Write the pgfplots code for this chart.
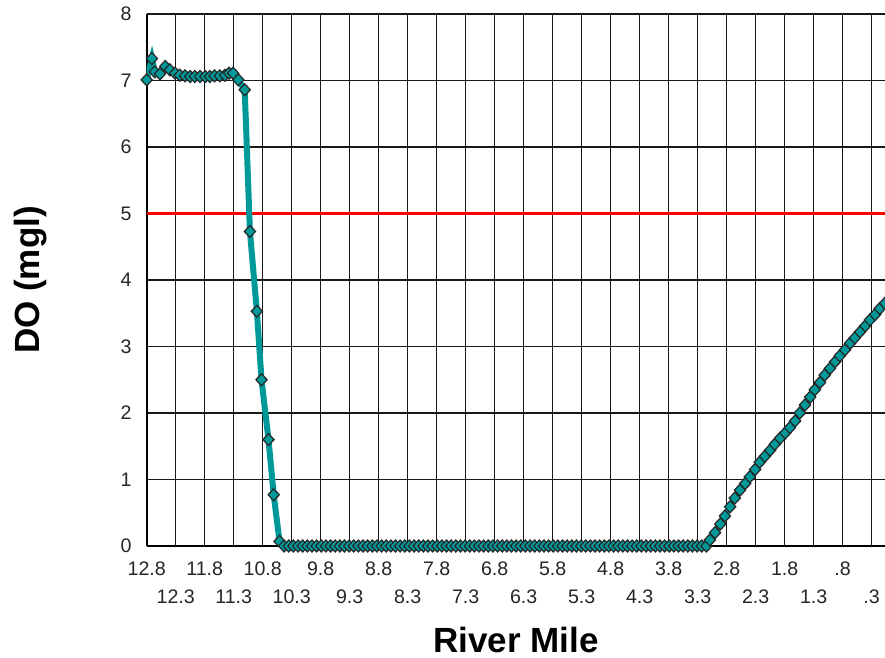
\documentclass[border=0pt]{standalone}
\usepackage{pgfplots}
\pgfplotsset{compat=1.18}
\usepackage{fontspec}
\setmainfont{Liberation Sans}
\definecolor{doteal}{RGB}{0,153,153}
\begin{document}
\begin{tikzpicture}
\useasboundingbox (-73.35pt,-56pt) rectangle (369.15pt,273pt);
\begin{axis}[
  scale only axis,
  width=369.15pt, height=266pt,
  at={(0,0)}, anchor=south west,
  x dir=reverse,
  xmin=0.07, xmax=12.8,
  ymin=0, ymax=8,
  axis x line*=bottom, axis y line*=left,
  axis line style={-, black, line width=1pt},
  ytick={0,1,...,8},
  xtick={12.8,11.8,10.8,9.8,8.8,7.8,6.8,5.8,4.8,3.8,2.8,1.8,0.8},
  xticklabels={12.8,11.8,10.8,9.8,8.8,7.8,6.8,5.8,4.8,3.8,2.8,1.8,.8},
  extra x ticks={12.3,11.3,10.3,9.3,8.3,7.3,6.3,5.3,4.3,3.3,2.3,1.3,0.3},
  extra x tick labels={12.3,11.3,10.3,9.3,8.3,7.3,6.3,5.3,4.3,3.3,2.3,1.3,.3},
  extra x tick style={grid=major, xticklabel style={yshift=-14pt}},
  xmajorgrids, ymajorgrids,
  grid style={black!90, line width=0.8pt},
  major tick length=0pt,
  xticklabel style={anchor=center, inner sep=0pt, yshift=-11.5pt, font=\fontsize{9.8}{10}\selectfont, text=black!85},
  yticklabel style={anchor=east, inner sep=0pt, xshift=-7.35pt, font=\fontsize{9.8}{10}\selectfont, text=black!85},
  /pgf/number format/assume math mode=true,
  xlabel={River Mile},
  ylabel={DO (mgl)},
  every axis x label/.style={at={(axis description cs:0.5,-0.1767)}, anchor=center, font=\fontsize{17.5}{20}\selectfont\bfseries},
  every axis y label/.style={at={(axis description cs:-0.158,0.5)}, rotate=90, anchor=center, font=\fontsize{17.5}{20}\selectfont\bfseries},
]
\addplot[red, line width=1.5pt] coordinates {(0.07,5) (12.8,5)};
\addplot[doteal, line width=3pt, mark=diamond*, mark size=3pt,
  mark options={xscale=1.25, fill=doteal, draw=black!85, line width=0.6pt, solid}] coordinates {
(12.80,7.01) (12.71,7.33) (12.66,7.13) (12.57,7.10) (12.48,7.21) (12.40,7.16)
(12.31,7.11) (12.23,7.08) (12.14,7.07) (12.05,7.06) (11.97,7.06) (11.88,7.06)
(11.79,7.06) (11.71,7.06) (11.63,7.07) (11.54,7.07) (11.45,7.08) (11.38,7.11)
(11.31,7.11) (11.22,7.01) (11.11,6.86)
(11.02,4.73) (10.90,3.53) (10.82,2.50) (10.70,1.60) (10.61,0.77) (10.51,0.07)
(10.43,0) (10.35,0) (10.27,0) (10.19,0) (10.11,0) (10.03,0) (9.95,0) (9.87,0)
(9.79,0) (9.71,0) (9.63,0) (9.55,0) (9.47,0) (9.39,0) (9.31,0) (9.23,0)
(9.15,0) (9.07,0) (8.99,0) (8.91,0) (8.83,0) (8.75,0) (8.67,0) (8.59,0)
(8.51,0) (8.43,0) (8.35,0) (8.27,0) (8.19,0) (8.11,0) (8.03,0) (7.95,0)
(7.87,0) (7.79,0) (7.71,0) (7.63,0) (7.55,0) (7.47,0) (7.39,0) (7.31,0)
(7.23,0) (7.15,0) (7.07,0) (6.99,0) (6.91,0) (6.83,0) (6.75,0) (6.67,0)
(6.59,0) (6.51,0) (6.43,0) (6.35,0) (6.27,0) (6.19,0) (6.11,0) (6.03,0)
(5.95,0) (5.87,0) (5.79,0) (5.71,0) (5.63,0) (5.55,0) (5.47,0) (5.39,0)
(5.31,0) (5.23,0) (5.15,0) (5.07,0) (4.99,0) (4.91,0) (4.83,0) (4.75,0)
(4.67,0) (4.59,0) (4.51,0) (4.43,0) (4.35,0) (4.27,0) (4.19,0) (4.11,0)
(4.03,0) (3.95,0) (3.87,0) (3.79,0) (3.71,0) (3.63,0) (3.55,0) (3.47,0)
(3.39,0) (3.31,0) (3.23,0) (3.15,0)
(3.09,0.09) (3.00,0.20) (2.91,0.33) (2.83,0.45) (2.74,0.59) (2.66,0.72)
(2.57,0.84) (2.48,0.94) (2.40,1.04) (2.31,1.15) (2.23,1.26) (2.14,1.35)
(2.05,1.44) (1.97,1.53) (1.88,1.62) (1.79,1.70) (1.71,1.78) (1.62,1.88)
(1.54,2.00) (1.45,2.12) (1.36,2.24) (1.28,2.35) (1.19,2.46) (1.11,2.57)
(1.02,2.67) (0.93,2.77) (0.85,2.86) (0.76,2.95) (0.67,3.05) (0.59,3.13)
(0.50,3.22) (0.41,3.31) (0.33,3.40) (0.24,3.48) (0.16,3.57) (0.07,3.65)
};
\end{axis}
\end{tikzpicture}
\end{document}
